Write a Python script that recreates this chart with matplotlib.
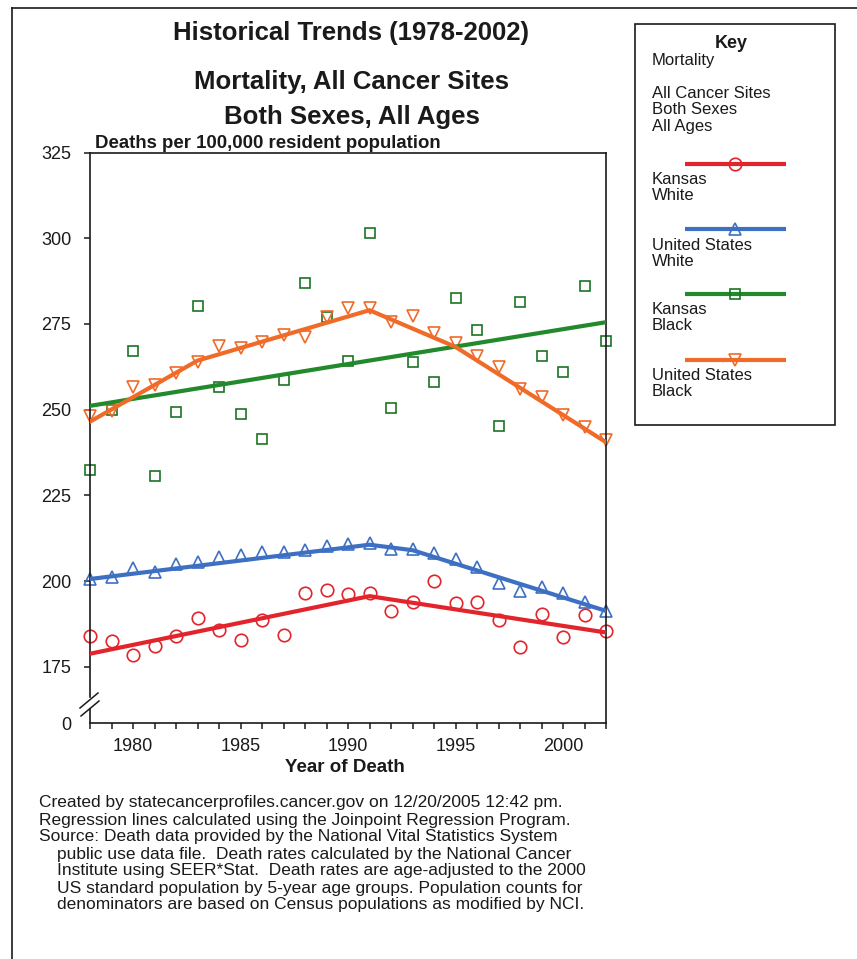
import matplotlib
matplotlib.use("Agg")
import matplotlib.pyplot as plt
from matplotlib.ticker import FixedLocator, MultipleLocator
from matplotlib.patches import Rectangle

plt.rcParams['font.family'] = ['Liberation Sans', 'DejaVu Sans']

W, H = 857, 959

# ---- data (rates per 100,000) ----
years = list(range(1978, 2003))

ks_white = [184.1, 182.4, 178.3, 181.0, 184.1, 189.3, 185.6, 182.9, 188.7, 184.4,
            196.4, 197.3, 196.1, 196.5, 191.3, 193.9, 200.0, 193.6, 193.9, 188.7,
            180.9, 190.4, 183.8, 190.0, 185.4]
us_white = [200.7, 201.2, 203.7, 202.7, 204.9, 205.6, 206.9, 207.6, 208.4, 208.4,
            209.0, 210.2, 210.7, 211.0, 209.4, 209.4, 208.3, 206.4, 204.1, 199.4,
            197.1, 198.3, 196.5, 193.9, 191.4]
ks_black = [232.3, 250.0, 267.0, 230.6, 249.2, 280.2, 256.5, 248.6, 241.3, 258.6,
            287.0, 277.0, 264.1, 301.5, 250.4, 263.9, 258.0, 282.5, 273.2, 245.1,
            281.3, 265.6, 260.9, 286.0, 270.0]
us_black = [248.2, 249.7, 256.5, 257.2, 260.7, 264.0, 268.5, 268.0, 269.7, 271.7,
            271.2, 277.0, 279.5, 279.5, 275.5, 277.3, 272.3, 269.4, 265.5, 262.4,
            256.0, 253.6, 248.5, 244.8, 241.0]

# joinpoint regression segments
ks_white_fit_x = [1978, 1991, 2002]
ks_white_fit_y = [178.8, 195.6, 185.0]
us_white_fit_x = [1978, 1991, 1993, 2002]
us_white_fit_y = [200.6, 210.6, 209.0, 191.3]
ks_black_fit_x = [1978, 2002]
ks_black_fit_y = [251.1, 275.5]
us_black_fit_x = [1978, 1983, 1991, 1995, 2002]
us_black_fit_y = [246.5, 264.3, 279.0, 268.3, 240.5]

y_ticks = [175, 200, 225, 250, 275, 300, 325]
Y_BREAK = 158.6   # where the "0" sits after the axis break
GAP_LO, GAP_HI = 163.0, 166.2

red = '#e2252c'
blue = '#3d6fc3'
green = '#22892c'
green_dark = '#1b7424'
orange = '#f06a28'
ink = '#1a1a1a'

fig = plt.figure(figsize=(W / 100, H / 100), dpi=100)
fig.patch.set_facecolor('white')

ax = fig.add_axes([90 / W, 1 - 723 / H, 516 / W, 570.5 / H])

# points
ax.plot(years, ks_black, 's', ms=7, mfc='none', mec=green_dark, mew=1.2, clip_on=False, zorder=2)
ax.plot(years, us_black, 'v', ms=8.5, mfc='none', mec=orange, mew=1.2, clip_on=False, zorder=2)
ax.plot(years, us_white, '^', ms=8, mfc='none', mec=blue, mew=1.2, clip_on=False, zorder=2)
ax.plot(years, ks_white, 'o', ms=9, mfc='none', mec=red, mew=1.2, clip_on=False, zorder=2)

# regression lines
ax.plot(ks_black_fit_x, ks_black_fit_y, color=green, lw=3, zorder=3)
ax.plot(us_black_fit_x, us_black_fit_y, color=orange, lw=3, zorder=3)
ax.plot(us_white_fit_x, us_white_fit_y, color=blue, lw=3, zorder=3)
ax.plot(ks_white_fit_x, ks_white_fit_y, color=red, lw=3, zorder=3)

ax.set_xlim(1978, 2002)
ax.set_ylim(Y_BREAK, 325)
ax.xaxis.set_major_locator(FixedLocator([1980, 1985, 1990, 1995, 2000]))
ax.xaxis.set_minor_locator(MultipleLocator(1))
ax.set_yticks([Y_BREAK] + y_ticks)
ax.set_yticklabels(['0'] + [str(v) for v in y_ticks])
ax.yaxis.get_major_ticks()[0].tick1line.set_visible(False)

ax.tick_params(axis='x', which='both', direction='out', length=4.5, width=1.1,
               color=ink, labelsize=13, pad=6, labelcolor=ink)
ax.tick_params(axis='y', direction='out', length=4.5, width=1.1, color=ink,
               labelsize=13, pad=9, labelcolor=ink)

for side in ['top', 'right', 'bottom', 'left']:
    ax.spines[side].set_linewidth(1.2)
    ax.spines[side].set_color(ink)
ax.spines['left'].set_bounds(GAP_HI, 325)
ax.plot([1978, 1978], [Y_BREAK, GAP_LO], color=ink, lw=1.2, clip_on=False,
        solid_capstyle='butt', zorder=4)

# ---- overlay in pixel coordinates for text, key and frames ----
ov = fig.add_axes([0, 0, 1, 1], zorder=5)
ov.set_xlim(0, W)
ov.set_ylim(H, 0)
ov.axis('off')
ov.patch.set_alpha(0)

# outer frame (left and top edges visible)
ov.plot([12, 12], [8, H], color=ink, lw=1.2)
ov.plot([12, W], [8, 8], color=ink, lw=1.2)

# axis break slashes
ov.plot([80, 98], [708, 693], color=ink, lw=1.1)
ov.plot([81, 99], [716, 701], color=ink, lw=1.1)

title_kw = dict(ha='center', va='center', fontsize=18.5, fontweight='bold', color=ink)
ov.text(351, 33, 'Historical Trends (1978-2002)', **title_kw)
ov.text(352, 82, 'Mortality, All Cancer Sites', **title_kw)
ov.text(352, 117, 'Both Sexes, All Ages', **title_kw)
ov.text(95, 143, 'Deaths per 100,000 resident population', ha='left', va='center',
        fontsize=13.4, fontweight='bold', color=ink)
ov.text(345, 768, 'Year of Death', ha='center', va='center', fontsize=13.5,
        fontweight='bold', color=ink)

footer = [
    (39, 'Created by statecancerprofiles.cancer.gov on 12/20/2005 12:42 pm.'),
    (39, 'Regression lines calculated using the Joinpoint Regression Program.'),
    (39, 'Source: Death data provided by the National Vital Statistics System'),
    (57, 'public use data file.  Death rates calculated by the National Cancer'),
    (57, 'Institute using SEER*Stat.  Death rates are age-adjusted to the 2000'),
    (57, 'US standard population by 5-year age groups. Population counts for'),
    (57, 'denominators are based on Census populations as modified by NCI.'),
]
for i, (x0, line) in enumerate(footer):
    ov.text(x0, 803 + 17 * i, line, ha='left', va='center', fontsize=12.5, color=ink)

# key box
ov.add_patch(Rectangle((635, 24), 200, 401, fill=False, ec=ink, lw=1.2))
ov.text(731, 44, 'Key', ha='center', va='center', fontsize=13, fontweight='bold', color=ink)
key_kw = dict(ha='left', va='center', fontsize=12, color=ink)
key_header = [(61, 'Mortality'), (94, 'All Cancer Sites'), (110, 'Both Sexes'), (126, 'All Ages')]
for ty, t in key_header:
    ov.text(652, ty, t, **key_kw)

key_items = [
    (164, red, red, 'o', 9, ['Kansas', 'White']),
    (229, blue, blue, '^', 8, ['United States', 'White']),
    (294, green, green_dark, 's', 7, ['Kansas', 'Black']),
    (360, orange, orange, 'v', 8.5, ['United States', 'Black']),
]
for ky, lc, mc, mk, ms, lab in key_items:
    ov.plot([685, 786], [ky, ky], color=lc, lw=3, solid_capstyle='butt')
    ov.plot([735], [ky], mk, ms=ms, mfc='none', mec=mc, mew=1.2)
    ov.text(652, ky + 16, lab[0], **key_kw)
    ov.text(652, ky + 32, lab[1], **key_kw)

fig.savefig('out.png', dpi=100, facecolor='white')
